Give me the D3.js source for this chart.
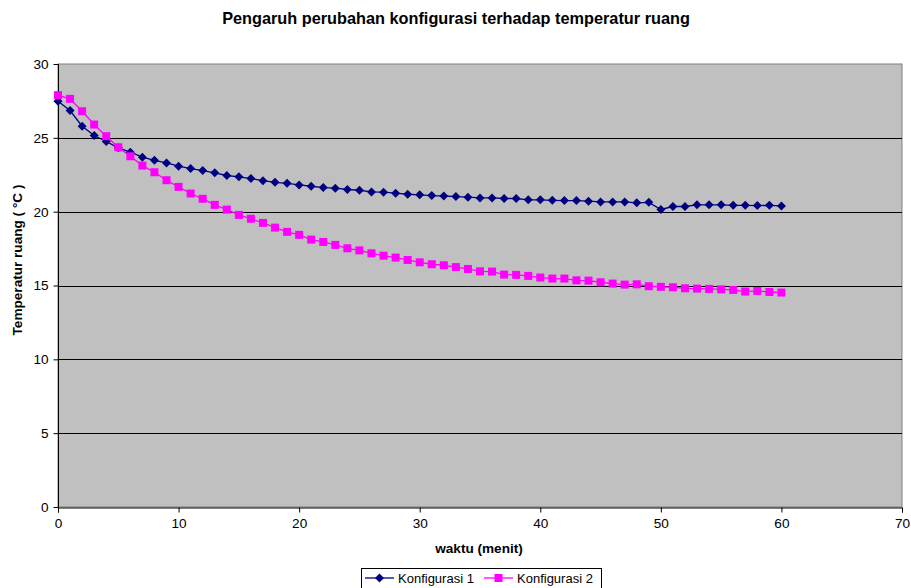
<!DOCTYPE html>
<html><head><meta charset="utf-8">
<script src="https://cdn.jsdelivr.net/npm/d3@7"></script>
<style>body{margin:0;background:#fff}svg{display:block;font-family:Arial,"Liberation Sans",sans-serif}</style>
</head><body><svg id="c" width="911" height="588"></svg>
<script>
const minutes = d3.range(0, 61);
const konfig1 = [27.48,26.85,25.79,25.16,24.75,24.32,24.03,23.69,23.48,23.30,
 23.08,22.92,22.78,22.63,22.45,22.36,22.24,22.10,21.99,21.92,
 21.81,21.72,21.63,21.59,21.50,21.45,21.34,21.32,21.25,21.18,
 21.14,21.09,21.06,21.02,20.98,20.93,20.93,20.89,20.89,20.80,
 20.80,20.77,20.75,20.75,20.71,20.66,20.66,20.66,20.60,20.63,
 20.15,20.35,20.35,20.46,20.46,20.46,20.43,20.43,20.41,20.43,20.39];
const konfig2 = [27.89,27.64,26.80,25.90,25.11,24.36,23.75,23.12,22.67,22.13,
 21.68,21.23,20.87,20.46,20.14,19.78,19.52,19.24,18.92,18.63,
 18.43,18.11,17.95,17.75,17.52,17.38,17.18,17.02,16.89,16.73,
 16.57,16.44,16.37,16.25,16.12,15.96,15.94,15.74,15.72,15.65,
 15.54,15.47,15.47,15.35,15.33,15.22,15.13,15.06,15.08,14.95,
 14.91,14.88,14.81,14.79,14.77,14.74,14.70,14.59,14.63,14.56,14.52];
const xTicks = [0,10,20,30,40,50,60,70];
const yTicks = [0,5,10,15,20,25,30];
const seriesNames = ["Konfigurasi 1","Konfigurasi 2"];
const colors = ["#000080","#FF00FF"];

const svg = d3.select("#c");
const L=58, R=902, T=64, B=507;
const x = d3.scaleLinear().domain([0,70]).range([L,R]);
const y = d3.scaleLinear().domain([0,30]).range([B,T]);
const FS = 13.6;

svg.append("rect").attr("x",L).attr("y",T).attr("width",R-L).attr("height",B-T)
  .attr("fill","#C0C0C0").attr("stroke","#808080").attr("stroke-width",1);

svg.append("g").selectAll("line").data(yTicks.filter(d=>d>0&&d<30)).join("line")
  .attr("x1",L).attr("x2",R).attr("y1",d=>Math.round(y(d))+0.5).attr("y2",d=>Math.round(y(d))+0.5)
  .attr("stroke","#000").attr("stroke-width",1);

const yAxis = svg.append("g").attr("transform",`translate(${L+0.5},0)`)
  .call(d3.axisLeft(y).tickValues(yTicks).tickSize(5).tickPadding(5));
const xAxis = svg.append("g").attr("transform",`translate(0,${B+0.5})`)
  .call(d3.axisBottom(x).tickValues(xTicks).tickSize(5).tickPadding(6));
[yAxis,xAxis].forEach(a=>{
  a.selectAll("path,line").attr("stroke","#000");
  a.selectAll("text").attr("font-size",FS).attr("fill","#000").attr("font-family","Arial, 'Liberation Sans', sans-serif");
});
yAxis.select(".domain").attr("d",`M0,${T}V${B}`);

svg.append("text").attr("x",456).attr("y",24).attr("text-anchor","middle")
  .attr("font-size",16.3).attr("font-weight","bold").text("Pengaruh perubahan konfigurasi terhadap temperatur ruang");
svg.append("text").attr("x",479).attr("y",553).attr("text-anchor","middle")
  .attr("font-size",FS).attr("font-weight","bold").text("waktu (menit)");
svg.append("text").attr("transform","translate(22,260) rotate(-90)").attr("text-anchor","middle")
  .attr("font-size",FS).attr("font-weight","bold").text("Temperatur ruang ( °C )");

const data = [konfig1, konfig2];
const line = d3.line().x((d,i)=>x(minutes[i])).y(d=>y(d));
const diamond = s=>`M0,${-s}L${s},0L0,${s}L${-s},0Z`;
const square = s=>`M${-s},${-s}H${s}V${s}H${-s}Z`;
const shapes = [diamond(4.5), square(4)];

data.forEach((vals,k)=>{
  svg.append("path").datum(vals).attr("d",line).attr("fill","none")
    .attr("stroke",colors[k]).attr("stroke-width",1.3);
});
data.forEach((vals,k)=>{
  svg.append("g").selectAll("path").data(vals).join("path")
    .attr("transform",(d,i)=>`translate(${x(minutes[i])},${y(d)})`)
    .attr("d",shapes[k]).attr("fill",colors[k]);
});

const lg = svg.append("g");
lg.append("rect").attr("x",361.5).attr("y",568.5).attr("width",240).attr("height",24)
  .attr("fill","#fff").attr("stroke","#000");
const lx = [365, 484];
seriesNames.forEach((n,k)=>{
  lg.append("line").attr("x1",lx[k]).attr("x2",lx[k]+29).attr("y1",578).attr("y2",578)
    .attr("stroke",colors[k]).attr("stroke-width",1.3);
  lg.append("path").attr("transform",`translate(${lx[k]+14.5},578)`).attr("d",shapes[k]).attr("fill",colors[k]);
  lg.append("text").attr("x",lx[k]+33).attr("y",583).attr("font-size",13).text(n);
});
</script></body></html>
